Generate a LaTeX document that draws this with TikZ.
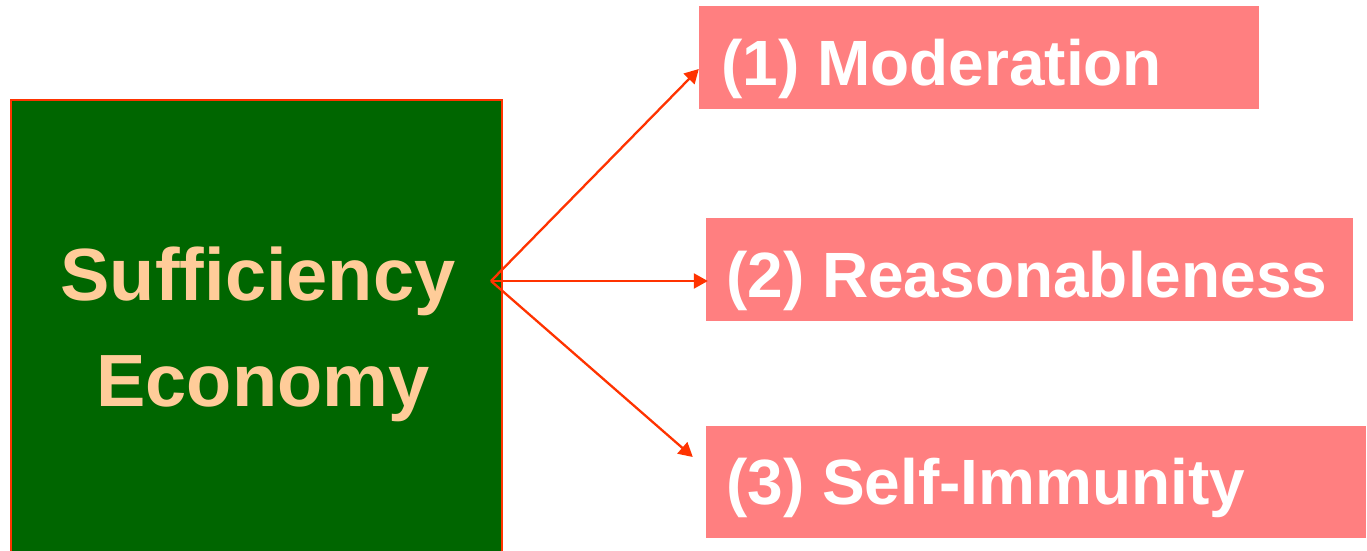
\documentclass[tikz,border=0pt]{standalone}
\usepackage{fontspec}
\setmainfont{Liberation Sans}
\usetikzlibrary{arrows.meta,calc}
\definecolor{dgreen}{HTML}{006600}
\definecolor{edgered}{HTML}{FF3300}
\definecolor{peach}{HTML}{FFCC99}
\definecolor{pinkbox}{HTML}{FF7F80}
\tikzset{
  pinkrect/.style={fill=pinkbox, draw=none, inner sep=0pt},
  pinktext/.style={anchor=base west, inner sep=0pt, text=white, font=\fontsize{64}{70}\selectfont\bfseries},
  greentext/.style={anchor=base, inner sep=0pt, text=peach, font=\fontsize{74}{80}\selectfont\bfseries},
  link/.style={draw=edgered, line width=2.3pt, -{Triangle[length=14pt,width=15pt]}}
}
\begin{document}
\begin{tikzpicture}[x=1pt,y=-1pt]
\useasboundingbox (0,0) rectangle (1367,551);
\begin{scope}
\clip (0,0) rectangle (1367,551);
\node[fill=dgreen, draw=edgered, line width=2pt, minimum width=491pt, minimum height=480pt, inner sep=0pt] (g) at (256.5,340) {};
\end{scope}
\node[greentext] (s1) at (258,300) {Sufficiency};
\node[greentext] (s2) at (263,406) {Economy};
\node[pinkrect, minimum width=560pt, minimum height=103pt] (b1) at (979,57.5) {};
\node[pinkrect, minimum width=647pt, minimum height=103pt] (b2) at (1029.5,269.5) {};
\node[pinkrect, minimum width=660pt, minimum height=112pt] (b3) at (1036,482) {};
\node[pinktext] (t1) at (721,85) {(1) Moderation};
\node[pinktext] (t2) at (726,297) {(2) Reasonableness};
\node[pinktext] (t3) at (726,504) {(3) Self-Immunity};
\coordinate (o) at (491,281);
\draw[link] (o) -- ([yshift=-11.5pt]b1.west);
\draw[link] (o) -- ([xshift=2pt,yshift=-11.5pt]b2.west);
\draw[link] (o) -- ([xshift=-13pt,yshift=25pt]b3.west);
\end{tikzpicture}
\end{document}
